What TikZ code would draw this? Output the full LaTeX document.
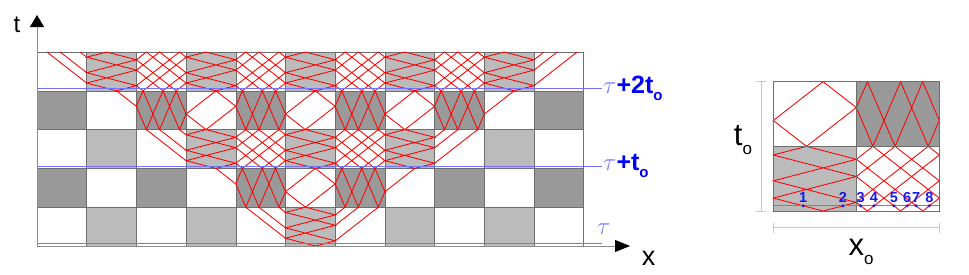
\documentclass[tikz,border=0pt]{standalone}
\usepackage{fontspec}
\setmainfont{Liberation Sans}
\usetikzlibrary{arrows.meta}
\definecolor{lgray}{RGB}{187,187,187}
\definecolor{dgray}{RGB}{153,153,153}
\definecolor{gridc}{RGB}{110,110,110}
\definecolor{axisc}{RGB}{140,140,140}
\definecolor{tauline}{RGB}{115,115,255}
\definecolor{taulab}{RGB}{125,125,255}
\definecolor{labblue}{RGB}{0,0,255}
\definecolor{ptblue}{RGB}{25,25,235}
\definecolor{dimc}{RGB}{200,200,200}
\tikzset{
  ray/.style={red, line width=0.85pt, line join=miter},
  gridline/.style={draw=gridc, line width=0.6pt},
  axisline/.style={draw=axisc, line width=0.8pt},
  tauln/.style={draw=tauline, line width=0.8pt},
  dimline/.style={draw=dimc, line width=0.8pt},
  lbl/.style={inner sep=0pt, text=black},
}
% cell patterns in local unit coordinates (x across, t up)
\newcommand\patL{\draw[ray] (0.4,1)--(0,0.8667)--(1,0.5333)--(0,0.2)--(0.6,0)--(1,0.1333)--(0,0.4667)--(1,0.8)--cycle;}
\newcommand\patW{\draw[ray] (0,0.1333)--(0.1333,0)--(1,0.8667)--(0.8667,1)--cycle (0,0.5333)--(0.5333,0)--(1,0.4667)--(0.4667,1)--cycle (0,0.8)--(0.8,0)--(1,0.2)--(0.2,1)--cycle;}
\newcommand\patT{\draw[ray] (0.4,0)--(1,0.6)--(0.6,1)--(0,0.4)--cycle;}
\newcommand\patD{\draw[ray] (0.1333,1)--(0,0.6)--(0.2,0)--(0.5333,1)--(0.8667,0)--(1,0.4)--(0.8,1)--(0.4667,0)--cycle;}
\newcommand\patWl{\draw[ray] (1,0.2)--(0.2,1) (1,0.4667)--(0.4667,1) (1,0.8667)--(0.8667,1);}
\newcommand\patWr{\draw[ray] (0,0.1333)--(0.8667,1) (0,0.5333)--(0.4667,1) (0,0.8)--(0.2,1);}
\newcommand\patTl{\draw[ray] (1,0.6)--(0.6,1);}
\newcommand\patTr{\draw[ray] (0,0.4)--(0.6,1);}
\newcommand\mcell[3]{\begin{scope}[shift={(37+#1*49.7,28+#2*38.8)},x=49.7pt,y=38.8pt]#3\end{scope}}
\newcommand\icell[3]{\begin{scope}[shift={(773.3+#1*83,63+#2*64.65)},x=83pt,y=64.65pt]#3\end{scope}}
\newcommand\tsub[1]{\raisebox{-0.28em}{\fontsize{15}{15}\selectfont #1}}
\begin{document}
\begin{tikzpicture}[x=1pt,y=1pt]
\useasboundingbox (0,0) rectangle (969,274);
% ---------- main checkerboard fills
\foreach \c in {1,3,5,7,9}{\foreach \r in {0,2,4}{\fill[lgray] (37+\c*49.7,28+\r*38.8) rectangle ++(49.7,38.8);}}
\foreach \c in {0,2,4,6,8,10}{\foreach \r in {1,3}{\fill[dgray] (37+\c*49.7,28+\r*38.8) rectangle ++(49.7,38.8);}}
% ---------- grid
\foreach \c in {1,...,11}{\draw[gridline] (37+\c*49.7,28) -- (37+\c*49.7,222);}
\foreach \r in {1,...,5}{\draw[gridline] (37,28+\r*38.8) -- (583.7,28+\r*38.8);}
% ---------- rays
% row 0
\mcell{5}{0}{\patL}\mcell{4}{0}{\patWl}\mcell{6}{0}{\patWr}
% row 1
\mcell{3}{1}{\patTl}\mcell{4}{1}{\patD}\mcell{5}{1}{\patT}\mcell{6}{1}{\patD}\mcell{7}{1}{\patTr}
% row 2
\mcell{2}{2}{\patWl}\mcell{3}{2}{\patL}\mcell{4}{2}{\patW}\mcell{5}{2}{\patL}\mcell{6}{2}{\patW}\mcell{7}{2}{\patL}\mcell{8}{2}{\patWr}
% row 3
\mcell{1}{3}{\patTl}\mcell{2}{3}{\patD}\mcell{3}{3}{\patT}\mcell{4}{3}{\patD}\mcell{5}{3}{\patT}\mcell{6}{3}{\patD}\mcell{7}{3}{\patT}\mcell{8}{3}{\patD}\mcell{9}{3}{\patTr}
% row 4
\mcell{0}{4}{\patWl}\mcell{1}{4}{\patL}\mcell{2}{4}{\patW}\mcell{3}{4}{\patL}\mcell{4}{4}{\patW}\mcell{5}{4}{\patL}\mcell{6}{4}{\patW}\mcell{7}{4}{\patL}\mcell{8}{4}{\patW}\mcell{9}{4}{\patL}\mcell{10}{4}{\patWr}
% ---------- tau lines and labels
\node[lbl, anchor=west] (lab2) at (603,186) {\textcolor{taulab}{\fontsize{27}{27}\selectfont$\tau$}\textcolor{labblue}{\fontsize{25}{25}\selectfont\bfseries +2t\tsub{o}}};
\node[lbl, anchor=west] (lab1) at (603,108) {\textcolor{taulab}{\fontsize{27}{27}\selectfont$\tau$}\textcolor{labblue}{\fontsize{25}{25}\selectfont\bfseries +t\tsub{o}}};
\node[lbl, anchor=west] (lab0) at (597,45) {\textcolor{taulab}{\fontsize{27}{27}\selectfont$\tau$}};
\coordinate (b2s) at (37,185.5); \coordinate (b2e) at (602,185.5);
\coordinate (b1s) at (37,107.9); \coordinate (b1e) at (602,107.9);
\coordinate (b0s) at (37,30.3);  \coordinate (b0e) at (602,30.3);
\draw[tauln] (b2s) -- (b2e);
\draw[tauln] (b1s) -- (b1e);
\draw[tauln] (b0s) -- (b0e);
% ---------- axes
\coordinate (O) at (37,28);
\coordinate (T) at (37,259);
\coordinate (X) at (630,28);
\draw[axisline, -{Triangle[length=12pt,width=14pt,color=black]}] (O) -- (T);
\draw[axisline, -{Triangle[length=15pt,width=12pt,color=black]}] (O) -- (X);
\node[lbl, font=\fontsize{24}{24}\selectfont] (tlab) at (17,249) {t};
\node[lbl, font=\fontsize{27}{27}\selectfont] (xlab) at (648.5,16) {x};
% ---------- inset
\icell{0}{0}{\fill[lgray] (0,0) rectangle (1,1); \patL}
\icell{1}{0}{\patW}
\icell{0}{1}{\patT}
\icell{1}{1}{\fill[dgray] (0,0) rectangle (1,1); \patD}
\icell{0}{0}{\draw[gridline] (0,0) rectangle (2,2) (1,0) -- (1,2) (0,1) -- (2,1);}
\coordinate (is) at (773.3,68.2); \coordinate (ie) at (939.3,68.2);
\draw[tauln] (is) -- (ie);
\foreach \u/\n in {0.36/1,0.84/2,1.053/3,1.213/4,1.453/5,1.613/6,1.72/7,1.88/8}{
  \fill[ptblue] (773.3+\u*83,68.2) circle (1.7);
  \node[lbl, anchor=south, text=ptblue, font=\fontsize{14.5}{14.5}\selectfont\bfseries] (n\n) at (773.3+\u*83,71.3) {\n};
}
% dimension marks
\coordinate (dv1) at (761,63); \coordinate (dv2) at (761,192.3);
\draw[dimline] (dv1) -- (dv2);
\draw[dimline] (756,63) -- (766,63) (756,192.3) -- (766,192.3);
\coordinate (dh1) at (773.3,46.3); \coordinate (dh2) at (939.3,46.3);
\draw[dimline] (dh1) -- (dh2);
\draw[dimline] (773.3,41.3) -- (773.3,51.3) (939.3,41.3) -- (939.3,51.3);
\node[lbl, font=\fontsize{31}{31}\selectfont] (tolab) at (743,134) {t\raisebox{-0.3em}{\fontsize{17}{17}\selectfont o}};
\node[lbl, font=\fontsize{31}{31}\selectfont] (xolab) at (861,22) {x\raisebox{-0.3em}{\fontsize{17}{17}\selectfont o}};
\end{tikzpicture}
\end{document}
